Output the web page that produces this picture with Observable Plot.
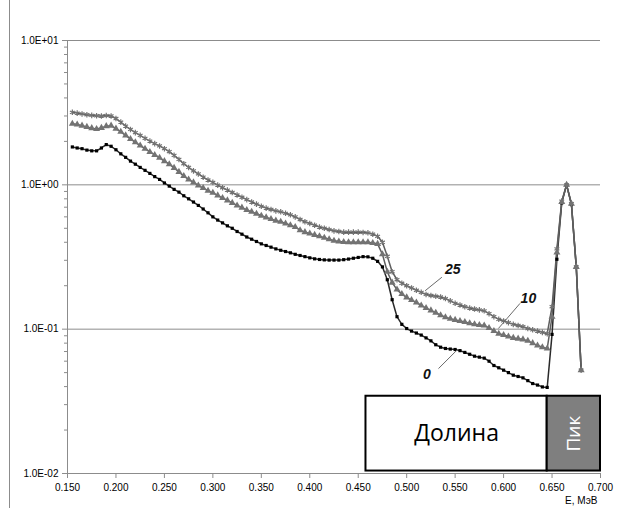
<!DOCTYPE html>
<html><head><meta charset="utf-8">
<script src="https://cdn.jsdelivr.net/npm/d3@7"></script>
<script src="https://cdn.jsdelivr.net/npm/@observablehq/plot@0.6"></script>
<style>
html,body{margin:0;padding:0;background:#fff;}
#chart{position:relative;width:624px;height:508px;overflow:hidden;}
#chart svg{position:absolute;left:0;top:0;}
#edge{position:absolute;left:9px;top:0;width:0;height:508px;border-left:1px solid #8c8c8c;}
</style></head><body><div id="chart"><div id="edge"></div></div>
<script>
// Energy, MeV
const energy = [
 0.155,0.160,0.165,0.170,0.175,0.180,0.185,0.190,0.195,0.200,
 0.205,0.210,0.215,0.220,0.225,0.230,0.235,0.240,0.245,0.250,
 0.255,0.260,0.265,0.270,0.275,0.280,0.285,0.290,0.295,0.300,
 0.305,0.310,0.315,0.320,0.325,0.330,0.335,0.340,0.345,0.350,
 0.355,0.360,0.365,0.370,0.375,0.380,0.385,0.390,0.395,0.400,
 0.405,0.410,0.415,0.420,0.425,0.430,0.435,0.440,0.445,0.450,
 0.455,0.460,0.465,0.470,0.475,0.480,0.485,0.490,0.495,0.500,
 0.505,0.510,0.515,0.520,0.525,0.530,0.535,0.540,0.545,0.550,
 0.555,0.560,0.565,0.570,0.575,0.580,0.585,0.590,0.595,0.600,
 0.605,0.610,0.615,0.620,0.625,0.630,0.635,0.640,0.645,0.650,
 0.655,0.660,0.665,0.670,0.675,0.680
];
// Series "0"
const series0 = [
 1.83,1.80,1.78,1.74,1.72,1.72,1.80,1.90,1.85,1.75,
 1.64,1.55,1.46,1.39,1.32,1.26,1.20,1.14,1.09,1.03,
 0.98,0.93,0.89,0.84,0.80,0.76,0.72,0.68,0.64,0.60,
 0.57,0.545,0.52,0.50,0.475,0.455,0.435,0.42,0.405,0.39,
 0.38,0.37,0.36,0.352,0.345,0.338,0.33,0.324,0.318,0.312,
 0.307,0.304,0.302,0.301,0.301,0.301,0.303,0.306,0.31,0.314,
 0.318,0.317,0.31,0.295,0.27,0.22,0.16,0.122,0.108,0.101,
 0.097,0.094,0.091,0.087,0.083,0.078,0.075,0.0735,0.0728,0.0723,
 0.071,0.069,0.067,0.065,0.064,0.063,0.060,0.056,0.054,0.052,
 0.050,0.048,0.047,0.046,0.044,0.042,0.041,0.0398,0.0395,0.092,
 0.305,0.75,1.0,0.73,0.27,0.052
];
// Series "10"
const series10 = [
 2.65,2.62,2.57,2.52,2.47,2.44,2.48,2.55,2.57,2.45,
 2.33,2.20,2.08,1.97,1.87,1.78,1.69,1.61,1.54,1.46,
 1.39,1.31,1.23,1.15,1.09,1.04,0.99,0.95,0.91,0.88,
 0.845,0.81,0.78,0.75,0.72,0.695,0.67,0.65,0.63,0.61,
 0.595,0.58,0.565,0.555,0.54,0.525,0.51,0.485,0.47,0.46,
 0.45,0.44,0.43,0.42,0.41,0.405,0.402,0.40,0.40,0.40,
 0.40,0.40,0.395,0.39,0.33,0.25,0.21,0.188,0.175,0.166,
 0.159,0.153,0.146,0.140,0.135,0.13,0.125,0.121,0.118,0.116,
 0.114,0.112,0.110,0.108,0.107,0.106,0.102,0.097,0.093,0.091,
 0.089,0.087,0.086,0.085,0.083,0.080,0.077,0.075,0.0734,0.122,
 0.34,0.76,1.0,0.74,0.27,0.052
];
// Series "25"
const series25 = [
 3.18,3.14,3.10,3.06,3.03,3.01,3.00,3.02,3.00,2.88,
 2.72,2.55,2.42,2.30,2.20,2.10,2.01,1.93,1.86,1.78,
 1.70,1.60,1.50,1.40,1.32,1.25,1.19,1.13,1.08,1.04,
 0.995,0.955,0.92,0.885,0.85,0.82,0.79,0.76,0.735,0.71,
 0.69,0.675,0.66,0.65,0.635,0.62,0.60,0.575,0.555,0.54,
 0.525,0.51,0.50,0.49,0.48,0.475,0.47,0.47,0.47,0.47,
 0.468,0.465,0.455,0.44,0.40,0.32,0.25,0.22,0.208,0.20,
 0.193,0.186,0.180,0.174,0.171,0.169,0.167,0.163,0.157,0.151,
 0.147,0.143,0.140,0.138,0.136,0.134,0.128,0.122,0.117,0.114,
 0.111,0.108,0.106,0.104,0.101,0.099,0.097,0.095,0.093,0.143,
 0.36,0.77,1.0,0.74,0.27,0.052
];
const seriesNames = ["0", "10", "25"];
const yMajorTicks = [0.01, 0.1, 1, 10];
const xTicks = [0.15,0.2,0.25,0.3,0.35,0.4,0.45,0.5,0.55,0.6,0.65,0.7];
const xAxisLabel = "E, МэВ";
// Series labels and their leader lines
const labelText = ["25", "10", "0"];
const labelE = [0.5476, 0.6256, 0.5208];
const labelV = [0.257, 0.163, 0.0487];
const leaderFromE = [0.5363, 0.617, 0.5328];
const leaderFromV = [0.229, 0.151, 0.0533];
const leaderToE = [0.519, 0.5946, 0.5518];
const leaderToV = [0.1845, 0.101, 0.0715];
// Region boxes
const regionNames = ["Долина", "Пик"];
const regionFromE = [0.458, 0.645];
const regionToE = [0.645, 0.700];
const regionLowV = [0.0104, 0.0104];
const regionHighV = [0.0343, 0.0343];

const allSeries = [series0, series10, series25];
const rows = [];
seriesNames.forEach((s, k) => energy.forEach((E, i) => rows.push({E, v: allSeries[k][i], s})));
const labels = labelText.map((t, i) => ({t, E: labelE[i], v: labelV[i]}));
const leaders = labelText.map((t, i) => ({x1: leaderFromE[i], y1: leaderFromV[i], x2: leaderToE[i], y2: leaderToV[i]}));
const regions = regionNames.map((n, i) => ({n, x1: regionFromE[i], x2: regionToE[i], y1: regionLowV[i], y2: regionHighV[i], ym: Math.sqrt(regionLowV[i]*regionHighV[i]), xm: (regionFromE[i]+regionToE[i])/2}));

const yMinorTicks = [];
for (const d of [0.01, 0.1, 1]) for (let m = 2; m <= 9; m++) yMinorTicks.push(+(d*m).toPrecision(3));

const fmtE = v => { const e = Math.round(Math.log10(v)); return "1.0E" + (e < 0 ? "-" : "+") + String(Math.abs(e)).padStart(2, "0"); };

const gray = "#8c8c8c";
const chart = Plot.plot({
  width: 624, height: 508,
  marginLeft: 67, marginRight: 24, marginTop: 40, marginBottom: 35,
  style: {fontFamily: "'Liberation Sans', Arial, sans-serif", fontSize: "10px", color: "#000", background: "transparent"},
  x: {domain: [0.15, 0.7], label: null},
  y: {type: "log", domain: [0.01, 10], label: null},
  marks: [
    Plot.gridY(yMajorTicks, {stroke: gray, strokeOpacity: 1, strokeWidth: 1}),
    Plot.ruleX([0.15], {stroke: gray}),
    Plot.ruleY([0.01], {stroke: gray}),
    Plot.axisY(yMajorTicks, {tickFormat: fmtE, tickSize: 5, stroke: gray, tickPadding: 4, fill: "#000", label: null}),
    Plot.axisY(yMinorTicks, {tickFormat: () => "", tickSize: 3, stroke: gray, label: null}),
    Plot.axisX(xTicks, {tickFormat: d3.format(".3f"), tickSize: 5, stroke: gray, tickPadding: 5, fill: "#000", label: null}),
    Plot.text([xAxisLabel], {frameAnchor: "bottom-right", text: d => d, dy: 30, dx: -3, textAnchor: "end", fill: "#000", fontSize: 10}),
    Plot.rect(regions, {x1: "x1", x2: "x2", y1: "y1", y2: "y2", fill: d => d.n === "Пик" ? "#7f7f7f" : "#fff", stroke: "#000", strokeWidth: 2}),
    Plot.text(regions.filter(d => d.n !== "Пик"), {x: "xm", y: "ym", text: "n", fontSize: 23, fill: "#000", fontFamily: "'Open Sans', 'Liberation Sans', sans-serif"}),
    Plot.text(regions.filter(d => d.n === "Пик"), {x: "xm", y: "ym", text: "n", fontSize: 19, fill: "#fff", rotate: -90, fontFamily: "'Open Sans', 'Liberation Sans', sans-serif"}),
    Plot.line(rows, {x: "E", y: "v", z: "s", stroke: d => d.s === "0" ? "#2a2a2a" : "#5e5e5e", strokeWidth: 1.5}),
    Plot.dot(rows.filter(d => d.s === "0"), {x: "E", y: "v", symbol: "square", r: 1.8, fill: "#000", stroke: "none"}),
    Plot.dot(rows.filter(d => d.s === "10"), {x: "E", y: "v", symbol: "triangle", r: 2.6, fill: "#737373", stroke: "none"}),
    Plot.dot(rows.filter(d => d.s === "25"), {x: "E", y: "v", symbol: "asterisk", r: 2.6, stroke: "#737373", strokeWidth: 1.2}),
    Plot.link(leaders, {x1: "x1", y1: "y1", x2: "x2", y2: "y2", stroke: "#6a6a6a", strokeWidth: 1}),
    Plot.text(labels, {x: "E", y: "v", text: "t", fontSize: 14, fontWeight: "bold", fontStyle: "italic", fill: "#111"})
  ]
});
document.getElementById("chart").appendChild(chart);
</script>
</body></html>
